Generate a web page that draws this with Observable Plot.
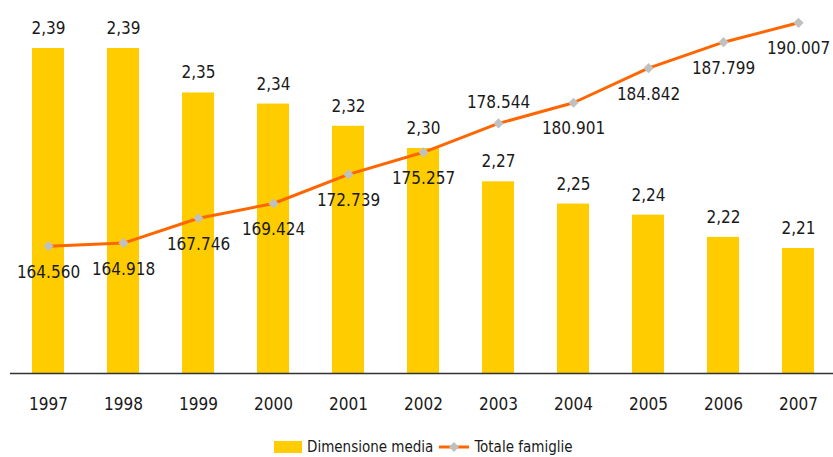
<!DOCTYPE html>
<html>
<head>
<meta charset="utf-8">
<script src="https://cdn.jsdelivr.net/npm/d3@7"></script>
<script src="https://cdn.jsdelivr.net/npm/@observablehq/plot@0.6"></script>
<style>
  html, body { margin: 0; padding: 0; background: #fff; }
  body { width: 833px; height: 457px; position: relative; overflow: hidden;
         font-family: 'DejaVu Sans Condensed', 'DejaVu Sans', sans-serif; color: #1a1a1a; }
  #legend { position: absolute; left: 274px; top: 436px; height: 22px; display: flex; align-items: center; font-size: 15px; white-space: nowrap; }
  #legend .box { width: 28px; height: 12px; background: #FFCC00; margin-right: 5px; }
  #legend svg { margin: 0 5px 0 6px; }
</style>
</head>
<body>
<div id="chart"></div>
<div id="legend">
  <span class="box"></span><span>Dimensione media</span>
  <svg width="30" height="14" viewBox="0 0 30 14"><line x1="0" y1="7" x2="30" y2="7" stroke="#FF6600" stroke-width="3"/><path d="M15,2 L20,7 L15,12 L10,7 Z" fill="#C0C0C0"/></svg>
  <span>Totale famiglie</span>
</div>
<script>
const years = ["1997","1998","1999","2000","2001","2002","2003","2004","2005","2006","2007"];
const dimensioneMedia = [2.39, 2.39, 2.35, 2.34, 2.32, 2.30, 2.27, 2.25, 2.24, 2.22, 2.21];
const totaleFamiglie = [164560, 164918, 167746, 169424, 172739, 175257, 178544, 180901, 184842, 187799, 190007];
const labelsAbove = ["2003"];

const it = d3.formatLocale({decimal: ",", thousands: ".", grouping: [3], currency: ["", " €"]});
const fmtDim = it.format(".2f");
const fmtFam = it.format(",d");

// primary (bars) and secondary (line) axis domains
const yDomain = [2.0975, 2.4332];
const y2Domain = [150060, 192548];
const toPrimary = d3.scaleLinear().domain(y2Domain).range(yDomain);

const data = years.map((y, i) => ({
  year: y,
  dim: dimensioneMedia[i],
  fam: totaleFamiglie[i],
  famY: toPrimary(totaleFamiglie[i]),
  above: labelsAbove.includes(y)
}));

const font = "'DejaVu Sans Condensed', 'DejaVu Sans', sans-serif";
const fs = 17;

const chart = Plot.plot({
  width: 833,
  height: 425,
  marginTop: 0,
  marginBottom: 52,
  marginLeft: 10,
  marginRight: 0,
  style: {fontFamily: font, fontSize: fs + "px", color: "#1a1a1a", background: "#fff"},
  x: {domain: years, range: [22, 824], paddingInner: 0.58, paddingOuter: 0.13},
  y: {domain: yDomain, axis: null},
  marks: [
    Plot.barY(data, {x: "year", y1: yDomain[0], y2: "dim", fill: "#FFCC00"}),
    Plot.ruleY([yDomain[0]], {stroke: "#333", strokeWidth: 1.5}),
    Plot.axisX({tickSize: 0, tickPadding: 24, fontSize: fs, fill: "#1a1a1a", label: null}),
    Plot.text(data, {x: "year", y: "dim", text: d => fmtDim(d.dim), dy: -20, fontSize: fs, fill: "#1a1a1a"}),
    Plot.line(data, {x: "year", y: "famY", stroke: "#FF6600", strokeWidth: 3}),
    Plot.dot(data, {x: "year", y: "famY", symbol: "diamond2", r: 4.6, fill: "#C0C0C0", stroke: "none"}),
    Plot.text(data.filter(d => !d.above), {x: "year", y: "famY", text: d => fmtFam(d.fam), dy: 26, fontSize: fs, fill: "#1a1a1a"}),
    Plot.text(data.filter(d => d.above), {x: "year", y: "famY", text: d => fmtFam(d.fam), dy: -21, fontSize: fs, fill: "#1a1a1a"})
  ]
});
document.getElementById("chart").appendChild(chart);
</script>
</body>
</html>
